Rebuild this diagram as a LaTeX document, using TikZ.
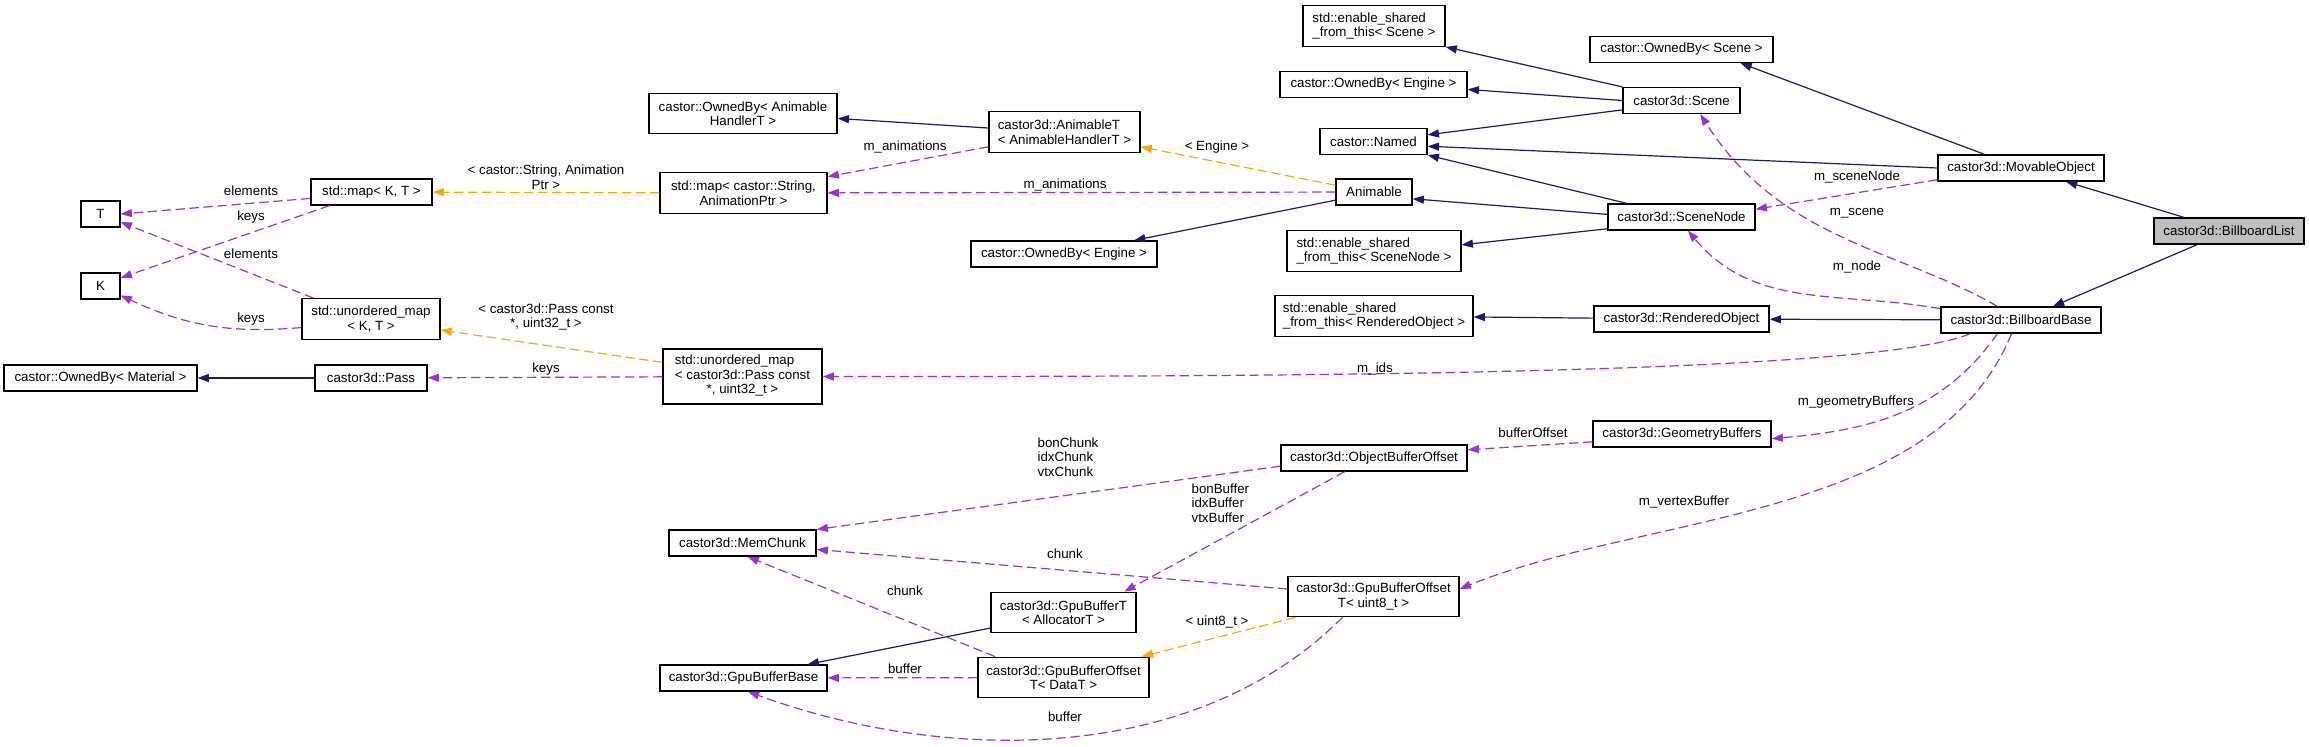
\documentclass[tikz,border=0pt]{standalone}
\usepackage{fontspec}
\setmainfont{Liberation Sans}
\usetikzlibrary{arrows.meta}
\definecolor{navyc}{HTML}{191970}
\definecolor{orchid}{HTML}{9A32CD}
\definecolor{tmplc}{HTML}{FFA500}
\tikzstyle{cls} = [rectangle, draw=black, fill=white, line width=0.9pt, font=\fontsize{10}{10.9}\selectfont, inner xsep=2pt, inner ysep=1pt, minimum height=19.5pt, align=center]
\tikzstyle{two} = [minimum height=30.5pt]
\tikzstyle{three} = [minimum height=41.25pt]
\tikzstyle{hl} = [cls, fill=gray!50]
\tikzstyle{lbl} = [font=\fontsize{10}{10.9}\selectfont, inner sep=0pt, align=center, text=black]
\tikzstyle{inh} = [line width=0.9pt, draw=navyc, ->, >={Triangle[length=8.5pt,width=6pt]}]
\tikzstyle{member} = [line width=0.9pt, draw=orchid, dash pattern=on 7pt off 3.5pt, ->, >={Triangle[length=8.5pt,width=6pt]}]
\tikzstyle{tmpl} = [line width=0.9pt, draw=tmplc, dash pattern=on 7pt off 3.5pt, ->, >={Triangle[length=8.5pt,width=6pt]}]

\begin{document}
\begin{tikzpicture}[x=0.75pt, y=-0.75pt]
\useasboundingbox (0,0) rectangle (2309,746);
% classes, column by column from the left
\node (T) [cls, minimum width=29.25pt] at (100.5,214) {T};
\node (K) [cls, minimum width=29.25pt] at (100.5,286) {K};
\node (ownedmaterial) [cls, minimum width=144.75pt] at (100.5,378) {castor::OwnedBy< Material >};
\node (mapkt) [cls, minimum width=90.75pt] at (371.5,192) {std::map< K, T >};
\node (umapkt) [cls, two, minimum width=103.5pt] at (371,319) {std::unordered\_map\\< K, T >};
\node (pass) [cls, minimum width=84pt] at (371,378) {castor3d::Pass};
\node (ownedah) [cls, two, minimum width=141pt] at (743,113.5) {castor::OwnedBy< Animable\\HandlerT >};
\node (mapstr) [cls, two, minimum width=125.25pt] at (743.5,193) {std::map< castor::String,\\AnimationPtr >};
\node (umappass) [cls, three, minimum width=119.25pt] at (742.5,376.5) {\begin{tabular}{@{}l@{}}std::unordered\_map\\< castor3d::Pass const\\\multicolumn{1}{@{}c@{}}{*, uint32\_t >}\end{tabular}};
\node (memchunk) [cls, minimum width=110.25pt] at (742.5,543) {castor3d::MemChunk};
\node (gpubufferbase) [cls, minimum width=125.25pt] at (743.5,678) {castor3d::GpuBufferBase};
\node (animablet) [cls, two, align=left, minimum width=113.25pt] at (1064.5,132) {castor3d::AnimableT\\< AnimableHandlerT >};
\node (ownedenginelow) [cls, minimum width=139.5pt] at (1064,254) {castor::OwnedBy< Engine >};
\node (gpubuffert) [cls, two, minimum width=108.75pt] at (1063.5,612.5) {castor3d::GpuBufferT\\< AllocatorT >};
\node (gbodata) [cls, two, minimum width=128.25pt] at (1063.5,677.5) {castor3d::GpuBufferOffset\\T< DataT >};
\node (sharedscene) [cls, two, align=left, minimum width=106.5pt] at (1374,26) {std::enable\_shared\\\_from\_this< Scene >};
\node (ownedengine) [cls, minimum width=140.25pt] at (1373.5,84.5) {castor::OwnedBy< Engine >};
\node (named) [cls, minimum width=80.25pt] at (1373.5,141.5) {castor::Named};
\node (animable) [cls, minimum width=57pt] at (1374,192) {Animable};
\node (sharednode) [cls, two, align=left, minimum width=130.5pt] at (1374,251) {std::enable\_shared\\\_from\_this< SceneNode >};
\node (sharedrendered) [cls, two, align=left, minimum width=148.5pt] at (1374,316) {std::enable\_shared\\\_from\_this< RenderedObject >};
\node (obo) [cls, minimum width=139.5pt] at (1374,458) {castor3d::ObjectBufferOffset};
\node (gbouint8) [cls, two, minimum width=128.25pt] at (1373.5,596.5) {castor3d::GpuBufferOffset\\T< uint8\_t >};
\node (ownedscene) [cls, minimum width=137.25pt] at (1681.5,49.5) {castor::OwnedBy< Scene >};
\node (scene) [cls, minimum width=87.75pt] at (1681.5,100.5) {castor3d::Scene};
\node (scenenode) [cls, minimum width=110.25pt] at (1681.5,217) {castor3d::SceneNode};
\node (renderedobject) [cls, minimum width=131.25pt] at (1681.5,319) {castor3d::RenderedObject};
\node (geombuf) [cls, minimum width=133.5pt] at (1682,434) {castor3d::GeometryBuffers};
\node (movable) [cls, minimum width=124.5pt] at (2021,168) {castor3d::MovableObject};
\node (billboardbase) [cls, minimum width=120pt] at (2021,320) {castor3d::BillboardBase};
\node (billboardlist) [hl, minimum width=112.5pt] at (2229,231) {castor3d::BillboardList};

% inheritance
\draw [inh] (billboardlist) -- (movable);
\draw [inh] (billboardlist) -- (billboardbase);
\draw [inh] (movable.west) -- (named.-5);
\draw [inh] (movable) -- (ownedscene.-13);
\draw [inh] (scene.north west) -- (sharedscene.south east);
\draw [inh] (scene.west) -- (ownedengine.-3);
\draw [inh] (scene.-171) -- (named.7);
\draw [inh] (scenenode.166) -- (named.south east);
\draw [inh] (scenenode.178) -- (animable.-10);
\draw [inh] (scenenode.-171) -- (sharednode.4);
\draw [inh] (animable.-168) -- (ownedenginelow.11);
\draw [inh] (animablet.177) -- (ownedah.-3);
\draw [inh] (billboardbase) -- (renderedobject);
\draw [inh] (renderedobject) -- (sharedrendered);
\draw [inh] (pass) -- (ownedmaterial);
\draw [inh] (gpubuffert.-168) -- (gpubufferbase.12);

% template instances
\draw [tmpl] (animable.170) -- (animablet.-11) node[lbl] at (1217,147) {< Engine >};
\draw [tmpl] (mapstr) -- (mapkt) node[lbl] at (546,177) {< castor::String, Animation\\Ptr >};
\draw [tmpl] (umappass.170) -- (umapkt.-9) node[lbl] at (546,317) {< castor3d::Pass const\\*, uint32\_t >};
\draw [tmpl] (gbouint8.-165) -- (gbodata.15) node[lbl] at (1217,622) {< uint8\_t >};

% members
\draw [member] (animablet.-169) -- (mapstr.11) node[lbl] at (905,147) {m\_animations};
\draw [member] (animable) -- (mapstr) node[lbl] at (1065,185) {m\_animations};
\draw [member] (mapkt.-174) -- (T.east) node[lbl] at (251,191) {elements};
\draw [member] (mapkt.-162) -- (K.22) node[lbl] at (251,217) {keys};
\draw [member] (umapkt.160) -- (T.-22) node[lbl] at (251,254) {elements};
\draw [member] (umapkt.-173) to[out=185, in=-25] (K.-25) node[lbl] at (251,319) {keys};
\draw [member] (umappass) -- (pass) node[lbl] at (546,369) {keys};
\draw [member] (billboardbase.-165) .. controls +(-100,43) and +(400,0) .. (umappass.east) node[lbl] at (1375,369) {m\_ids};
\draw [member] (billboardbase.150) .. controls +(-98,-57) and +(81,127) .. (scene.-36) node[lbl] at (1857,213) {m\_scene};
\draw [member] (billboardbase.172) to[out=170, in=-50] (scenenode.-65) node[lbl] at (1857,267) {m\_node};
\draw [member] (movable.-172) -- (scenenode.6) node[lbl] at (1857,177) {m\_sceneNode};
\draw [member] (billboardbase.-150) to[out=-125, in=5] (geombuf.-3) node[lbl] at (1856,402) {m\_geometryBuffers};
\draw [member] (billboardbase.-125) to[out=-112, in=22, looseness=0.85] (gbouint8.5) node[lbl] at (1684,502) {m\_vertexBuffer};
\draw [member] (geombuf.-175) -- (obo.5) node[lbl] at (1533,433) {bufferOffset};
\draw [member] (obo.-175) -- (memchunk.north east) node[lbl, align=left, anchor=west] at (1037,457) {bonChunk\\idxChunk\\vtxChunk};
\draw [member] (obo.-155) -- (gpubuffert.19) node[lbl, align=left, anchor=west] at (1191,503) {bonBuffer\\idxBuffer\\vtxBuffer};
\draw [member] (gbouint8.175) -- (memchunk.-5) node[lbl] at (1065,554) {chunk};
\draw [member] (gbodata.163) -- (memchunk.-70) node[lbl] at (905,591) {chunk};
\draw [member] (gbodata) -- (gpubufferbase) node[lbl] at (905,669) {buffer};
\draw [member] (gbouint8.-146) to[out=-135, in=-20, looseness=0.9] (gpubufferbase.-72) node[lbl] at (1065,717) {buffer};
\end{tikzpicture}
\end{document}
